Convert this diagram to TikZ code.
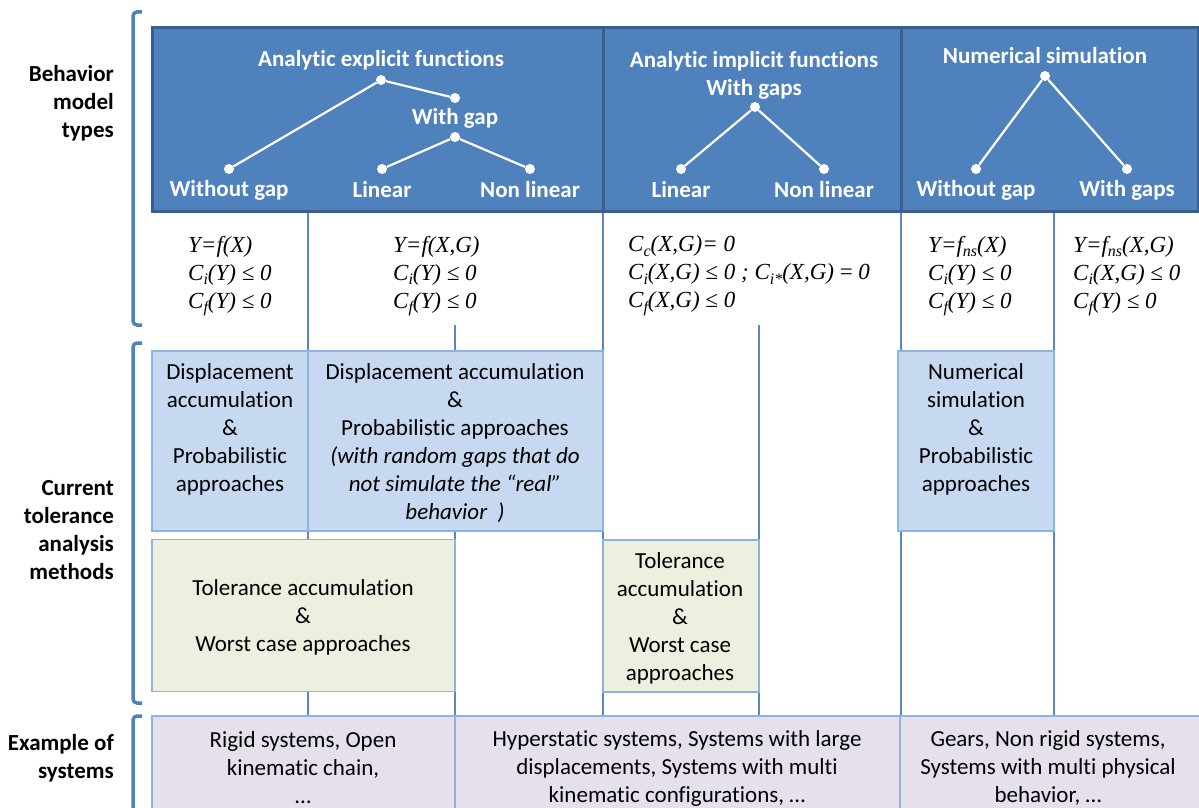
\documentclass[tikz,border=0pt]{standalone}
\usepackage{fontspec}
\setmainfont{Carlito}[Ligatures=NoCommon]
\newfontfamily\tnr{Liberation Serif}
\definecolor{hdr}{HTML}{4F81BD}
\definecolor{hdrb}{HTML}{3A5F8E}
\definecolor{lblue}{HTML}{C6D9F1}
\definecolor{lgreen}{HTML}{EBF1DE}
\definecolor{lpurp}{HTML}{E5E0EC}
\definecolor{gridc}{HTML}{5A86C2}
\definecolor{boxb}{HTML}{8DB3E2}
\newcommand{\sbs}[1]{\raisebox{-0.45ex}{\fontsize{16}{16}\selectfont #1}}
\begin{document}
\begin{tikzpicture}[x=1pt,y=-1pt,
  hdrbox/.style={draw=hdrb, line width=3, fill=hdr, inner sep=0},
  cell/.style={draw=boxb, line width=1.6, inner sep=0},
  bluebox/.style={cell, fill=lblue},
  greenbox/.style={cell, fill=lgreen},
  purpbox/.style={cell, fill=lpurp},
  body/.style={align=center, inner sep=0, font=\fontsize{23}{28}\selectfont, text=black},
  htext/.style={align=center, inner sep=0, text=white, font=\bfseries\fontsize{23}{28}\selectfont},
  hdot/.style={circle, fill=white, inner sep=0, minimum size=10},
  tline/.style={white, line width=2.2},
  gridl/.style={gridc, line width=1.2},
  brk/.style={hdr, line width=3.5, rounded corners=4},
  side/.style={align=right, anchor=east, inner sep=0, font=\bfseries\fontsize{23}{28}\selectfont},
  formula/.style={align=left, anchor=west, inner sep=0, font=\tnr\itshape\fontsize{23}{28}\selectfont}
]
\useasboundingbox (0,0) rectangle (1199,808);
\clip (0,0) rectangle (1199,808);

% grid lines
\draw[gridl] (308,211) -- (308,716);
\draw[gridl] (603,211) -- (603,716);
\draw[gridl] (901,211) -- (901,716);
\draw[gridl] (1054,211) -- (1054,716);
\draw[gridl] (455,325) -- (455,716);
\draw[gridl] (759,325) -- (759,716);

% header panels
\node[hdrbox, minimum width=451, minimum height=183] (h1) at (377.5,119.5) {};
\node[hdrbox, minimum width=298, minimum height=183] (h2) at (752,119.5) {};
\node[hdrbox, minimum width=297, minimum height=183] (h3) at (1049.5,119.5) {};

% panel 1 tree
\node[htext] (t1) at (381,60) {Analytic explicit functions};
\node[hdot] (r1) at (381,80) {};
\node[hdot] (wg) at (455,98) {};
\node[htext] (wgt) at (455,118) {With gap};
\node[hdot] (r1b) at (455,137) {};
\node[hdot] (l1a) at (229,169) {};
\node[hdot] (l1b) at (382,169) {};
\node[hdot] (l1c) at (530,169) {};
\node[htext] (l1at) at (229,190) {Without gap};
\node[htext] (l1bt) at (382,190) {Linear};
\node[htext] (l1ct) at (530,190) {Non linear};
\draw[tline] (l1a) -- (r1) -- (wg);
\draw[tline] (l1b) -- (r1b) -- (l1c);

% panel 2 tree
\node[htext] (t2) at (754,75) {Analytic implicit functions\\With gaps};
\node[hdot] (r2) at (755,107) {};
\node[hdot] (l2a) at (681,169) {};
\node[hdot] (l2b) at (824,169) {};
\node[htext] (l2at) at (681,190) {Linear};
\node[htext] (l2bt) at (824,190) {Non linear};
\draw[tline] (l2a) -- (r2) -- (l2b);

% panel 3 tree
\node[htext] (t3) at (1045,56) {Numerical simulation};
\node[hdot] (r3) at (1045,76) {};
\node[hdot] (l3a) at (976,169) {};
\node[hdot] (l3b) at (1127,169) {};
\node[htext] (l3at) at (976,190) {Without gap};
\node[htext] (l3bt) at (1127,190) {With gaps};
\draw[tline] (l3a) -- (r3) -- (l3b);

% formulas
\node[formula] (f1) at (188,276) {Y=f(X)\\C\sbs{i}(Y) ≤ 0\\C\sbs{f}(Y) ≤ 0};
\node[formula] (f2) at (393,276) {Y=f(X,G)\\C\sbs{i}(Y) ≤ 0\\C\sbs{f}(Y) ≤ 0};
\node[formula] (f3) at (628,276) {C\sbs{c}(X,G)= 0\\C\sbs{i}(X,G) ≤ 0 ; C\sbs{i*}(X,G) {\upshape =} 0\\C\sbs{f}(X,G) ≤ 0};
\node[formula] (f4) at (928,276) {Y=f\sbs{ns}(X)\\C\sbs{i}(Y) ≤ 0\\C\sbs{f}(Y) ≤ 0};
\node[formula] (f5) at (1073,276) {Y=f\sbs{ns}(X,G)\\C\sbs{i}(X,G) ≤ 0\\C\sbs{f}(Y) ≤ 0};

% method boxes
\node[bluebox, minimum width=156, minimum height=180] (m1) at (230,441) {};
\node[bluebox, minimum width=295, minimum height=180] (m2) at (455.5,441) {};
\node[bluebox, minimum width=156, minimum height=180] (m3) at (976,441) {};
\node[greenbox, minimum width=303, minimum height=152] (g1) at (303.5,615.5) {};
\node[greenbox, minimum width=156, minimum height=152] (g2) at (681,616) {};

\node[body] (m1t) at (230,429) {Displacement\\accumulation\\\&\\Probabilistic\\approaches};
\node[body] (m2t) at (455,443) {Displacement accumulation\\\&\\Probabilistic approaches\\\itshape (with random gaps that do\\\itshape not simulate the “real”\\\itshape behavior~~)};
\node[body] (m3t) at (976,429) {Numerical\\simulation\\\&\\Probabilistic\\approaches};
\node[body] (g1t) at (303,617) {Tolerance accumulation\\\&\\Worst case approaches};
\node[body] (g2t) at (680,618) {Tolerance\\accumulation\\\&\\Worst case\\approaches};

% examples row
\node[purpbox, minimum width=303, minimum height=130] (e1) at (303.5,781) {};
\node[purpbox, minimum width=445, minimum height=130] (e2) at (677.5,781) {};
\node[purpbox, minimum width=310, minimum height=130] (e3) at (1055,781) {};
\node[body] (e1t) at (303,768) {Rigid systems, Open\\kinematic chain,\\…};
\node[body] (e2t) at (677,768) {Hyperstatic systems, Systems with large\\displacements, Systems with multi\\kinematic configurations, …};
\node[body] (e3t) at (1048,768) {Gears, Non rigid systems,\\Systems with multi physical\\behavior, …};

% brackets
\draw[brk] (142,12) -- (133,12) -- (133,325) -- (142,325);
\draw[brk] (142,343) -- (133,343) -- (133,703) -- (142,703);
\draw[brk] (142,716) -- (133,716) -- (133,830);

% side labels
\node[side] (s1) at (114,103) {Behavior\\model\\types};
\node[side] (s2) at (114,530) {Current\\tolerance\\analysis\\methods};
\node[side] (s3) at (114,758) {Example of\\systems};
\end{tikzpicture}
\end{document}
